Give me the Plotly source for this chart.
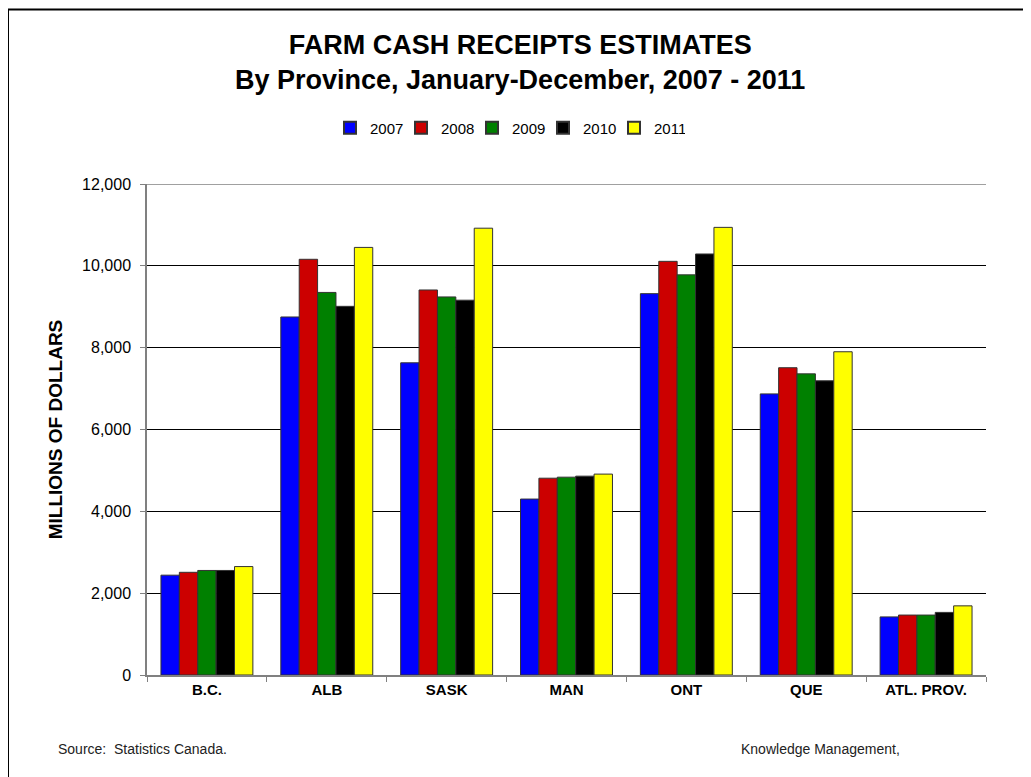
import plotly.graph_objects as go

provinces = ["B.C.", "ALB", "SASK", "MAN", "ONT", "QUE", "ATL. PROV."]
years = ["2007", "2008", "2009", "2010", "2011"]
v2007 = [2440, 8750, 7630, 4300, 9320, 6870, 1420]
v2008 = [2510, 10160, 9410, 4810, 10110, 7510, 1465]
v2009 = [2555, 9350, 9240, 4835, 9780, 7360, 1465]
v2010 = [2555, 9010, 9160, 4860, 10290, 7190, 1530]
v2011 = [2650, 10450, 10920, 4910, 10940, 7900, 1690]
series = [v2007, v2008, v2009, v2010, v2011]
colors = ["#0000FF", "#CC0000", "#008000", "#000000", "#FFFF00"]

W, H = 1031, 777
OFF = 8  # page body margin offset of the rendered figure
L, R, T, B = 147, 986, 184, 675  # plot area in reference pixels


def px(x):
    return (x - L) / (R - L)


def py(y):
    return (B - y) / (B - T)


fig = go.Figure()
for name, vals, col in zip(years, series, colors):
    fig.add_trace(go.Bar(
        x=provinces, y=vals, name=name,
        marker=dict(color=col, line=dict(color="#333333", width=1)),
    ))

font_main = "Arial, Liberation Sans, sans-serif"

fig.update_layout(
    width=W, height=H,
    margin=dict(l=L - OFF, r=W - R + OFF, t=T - OFF, b=H - B + OFF, pad=0),
    paper_bgcolor="white", plot_bgcolor="white",
    barmode="group", bargap=0.233, bargroupgap=0,
    font=dict(family=font_main, color="black"),
    showlegend=True,
    legend=dict(
        orientation="h", x=px(330), xanchor="left", y=py(128), yanchor="middle",
        entrywidth=26, entrywidthmode="pixels",
        font=dict(size=15, family=font_main),
        bgcolor="rgba(0,0,0,0)", borderwidth=0, itemsizing="constant",
        traceorder="normal",
    ),
    xaxis=dict(
        showline=True, linecolor="#808080", linewidth=1.5,
        ticks="outside", tickson="boundaries", ticklen=5, tickcolor="#808080",
        tickfont=dict(size=15, family=font_main),
        showgrid=False,
    ),
    yaxis=dict(
        range=[0, 12000], dtick=2000, tickformat=",",
        showline=True, linecolor="#808080", linewidth=1.5,
        ticks="outside", ticklen=5, tickcolor="#808080",
        ticklabelstandoff=6,
        tickfont=dict(size=16, family=font_main),
        showgrid=True, gridcolor="black", gridwidth=1,
        zeroline=False,
        title=dict(text="<b>MILLIONS OF DOLLARS</b>", font=dict(size=19, family=font_main), standoff=14),
    ),
)

fig.update_xaxes(ticktext=["<b>%s</b>" % p for p in provinces], tickvals=provinces)

annotations = [
    dict(text="<b>FARM CASH RECEIPTS ESTIMATES</b><br><b>By Province, January-December, 2007 - 2011</b>",
         x=px(520), y=py(62), xref="paper", yref="paper", xanchor="center", yanchor="middle",
         showarrow=False, align="center", font=dict(size=27, family=font_main, color="black")),
    dict(text="Source:  Statistics Canada.", x=px(56), y=py(749), xref="paper", yref="paper",
         xanchor="left", yanchor="middle", showarrow=False, font=dict(size=14, family=font_main, color="#222")),
    dict(text="Knowledge Management,", x=px(739), y=py(749), xref="paper", yref="paper",
         xanchor="left", yanchor="middle", showarrow=False, font=dict(size=14, family=font_main, color="#222")),
]
fig.update_layout(annotations=annotations)

# outer frame (left and top edges)
fig.add_shape(type="line", xref="paper", yref="paper", x0=px(8), x1=px(8), y0=py(790), y1=py(9.5),
              line=dict(color="black", width=2))
fig.add_shape(type="line", xref="paper", yref="paper", x0=px(7), x1=px(1045), y0=py(9.5), y1=py(9.5),
              line=dict(color="black", width=2))
# top gridline drawn gray like the plot frame
fig.add_shape(type="line", xref="paper", yref="y", x0=0, x1=1, y0=12000, y1=12000,
              line=dict(color="#808080", width=1.5))

fig.write_html("out.html")
